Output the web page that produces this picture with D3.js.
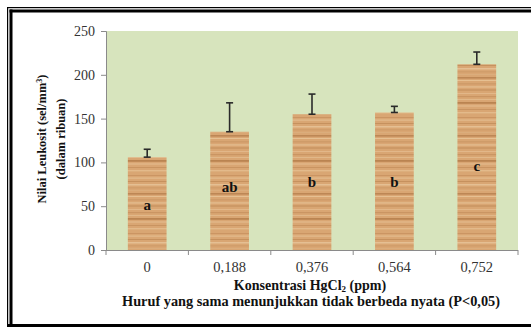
<!DOCTYPE html>
<html><head><meta charset="utf-8">
<script src="https://cdn.jsdelivr.net/npm/d3@7"></script>
<style>html,body{margin:0;padding:0;background:#fff;overflow:hidden;}svg{display:block;}
text{font-family:"Liberation Serif","Times New Roman",Times,serif;}</style>
</head><body>
<svg id="chart" width="531" height="327"></svg>
<script>
const categories = ["0", "0,188", "0,376", "0,564", "0,752"];
const values = [106, 135, 155, 157, 212];
const errors = [9, 33, 23, 7, 14];
const letters = ["a", "ab", "b", "b", "c"];
const letterAt = [51, 72, 78, 78, 96];
const yTicks = [0, 50, 100, 150, 200, 250];

const svg = d3.select("#chart");
const plot = {l:106, r:518, t:31, b:250};
const x = d3.scaleBand().domain(categories).range([plot.l, plot.r]).paddingInner(0.53).paddingOuter(0.265);
const y = d3.scaleLinear().domain([0, 250]).range([plot.b, plot.t]);

// wood texture (decorative fill)
const defs = svg.append("defs");
const pat = defs.append("pattern").attr("id","wood").attr("patternUnits","userSpaceOnUse")
  .attr("width", 40).attr("height", 58);
pat.append("rect").attr("width",40).attr("height",58).attr("fill","#d9a673");
const stripes = [[1,0.8,"#c18a58"],[3.5,1.2,"#e7c195"],[7,0.8,"#b98250"],[10,1.5,"#e9c79d"],[13.5,0.8,"#c48e5c"],
  [16,1,"#dcae7e"],[19,1.6,"#b47c4a"],[22,1,"#ebc89c"],[25.5,0.8,"#c08957"],[28,1.8,"#e3bb8d"],[31.5,1,"#b98350"],
  [35,0.8,"#e8c398"],[38,1.2,"#c58f5d"],[41,1,"#e4bd90"],[44,1.8,"#b07845"],[47.5,1,"#e9c59a"],[51,0.8,"#bf8855"],[54,1.4,"#e6c093"]];
stripes.forEach(s=>pat.append("rect").attr("x",0).attr("y",s[0]).attr("width",40).attr("height",s[1]).attr("fill",s[2]).attr("opacity",0.75));

// frame
svg.append("rect").attr("x",7).attr("y",7).attr("width",1.2).attr("height",330).attr("fill","#000");
svg.append("rect").attr("x",7).attr("y",7).attr("width",540).attr("height",1.2).attr("fill","#000");
svg.append("rect").attr("x",9.5).attr("y",9.5).attr("width",3).attr("height",330).attr("fill","#000");
svg.append("rect").attr("x",9.5).attr("y",9.5).attr("width",540).attr("height",3).attr("fill","#000");
svg.append("rect").attr("x",7).attr("y",324).attr("width",530).attr("height",4).attr("fill","#000");

// plot area
svg.append("rect").attr("x",plot.l).attr("y",plot.t).attr("width",plot.r-plot.l).attr("height",plot.b-plot.t).attr("fill","#d7e4bd");

// bars
svg.selectAll("rect.bar").data(values).join("rect").attr("class","bar")
  .attr("x",(d,i)=>x(categories[i])).attr("width",x.bandwidth())
  .attr("y",d=>y(d)).attr("height",d=>y(0)-y(d)).attr("fill","url(#wood)");

// error bars
const eg = svg.append("g").attr("stroke","#2a2a2a").attr("stroke-width",1.6);
values.forEach((v,i)=>{
  const cx = x(categories[i]) + x.bandwidth()/2;
  eg.append("line").attr("x1",cx).attr("x2",cx).attr("y1",y(v)).attr("y2",y(v+errors[i]));
  eg.append("line").attr("x1",cx-3.5).attr("x2",cx+3.5).attr("y1",y(v+errors[i])).attr("y2",y(v+errors[i]));
  eg.append("line").attr("x1",cx-3.5).attr("x2",cx+3.5).attr("y1",y(v)).attr("y2",y(v));
});

// letters
svg.selectAll("text.lab").data(letters).join("text").attr("class","lab")
  .attr("x",(d,i)=>x(categories[i])+x.bandwidth()/2).attr("y",(d,i)=>y(letterAt[i]))
  .attr("text-anchor","middle").attr("dominant-baseline","central")
  .attr("font-weight","bold").attr("font-size",15).attr("fill","#111").text(d=>d);

// y axis
const yAxis = svg.append("g").attr("transform",`translate(${plot.l},0)`)
  .call(d3.axisLeft(y).tickValues(yTicks).tickSize(5).tickPadding(6));
yAxis.select(".domain").attr("stroke","#8a8a8a");
yAxis.selectAll(".tick line").attr("stroke","#8a8a8a");
yAxis.selectAll("text").attr("font-family",null).attr("font-size",14).attr("fill","#333");

// x axis
const bounds = d3.range(categories.length+1).map(i=>plot.l + i*(plot.r-plot.l)/categories.length);
svg.append("line").attr("x1",plot.l).attr("x2",plot.r).attr("y1",plot.b+0.5).attr("y2",plot.b+0.5).attr("stroke","#8a8a8a");
svg.selectAll("line.xt").data(bounds).join("line").attr("class","xt")
  .attr("x1",d=>d).attr("x2",d=>d).attr("y1",plot.b).attr("y2",plot.b+5).attr("stroke","#8a8a8a");
svg.selectAll("text.xl").data(categories).join("text").attr("class","xl")
  .attr("x",d=>x(d)+x.bandwidth()/2).attr("y",272).attr("text-anchor","middle")
  .attr("font-size",14.5).attr("fill","#333").text(d=>d);

// axis titles
const xt = svg.append("text").attr("x",310).attr("y",290).attr("text-anchor","middle")
  .attr("font-weight","bold").attr("font-size",14).attr("fill","#111");
xt.append("tspan").text("Konsentrasi HgCl");
xt.append("tspan").attr("font-size",9).attr("dy",2).text("2");
xt.append("tspan").attr("dy",-2).text(" (ppm)");

svg.append("text").attr("x",122).attr("y",306)
  .attr("font-weight","bold").attr("font-size",14).attr("fill","#111")
  .attr("textLength",378).attr("lengthAdjust","spacingAndGlyphs")
  .text("Huruf yang sama menunjukkan tidak berbeda nyata (P<0,05)");

const yt = svg.append("text").attr("transform","translate(46,139) rotate(-90)").attr("text-anchor","middle")
  .attr("font-weight","bold").attr("font-size",12.5).attr("fill","#111");
yt.append("tspan").text("Nilai Leukosit (sel/mm");
yt.append("tspan").attr("font-size",8).attr("dy",-4).text("3");
yt.append("tspan").attr("dy",4).text(")");
svg.append("text").attr("transform","translate(65,139) rotate(-90)").attr("text-anchor","middle")
  .attr("font-weight","bold").attr("font-size",12.5).attr("fill","#111")
  .text("(dalam ribuan)");
</script>
</body></html>
